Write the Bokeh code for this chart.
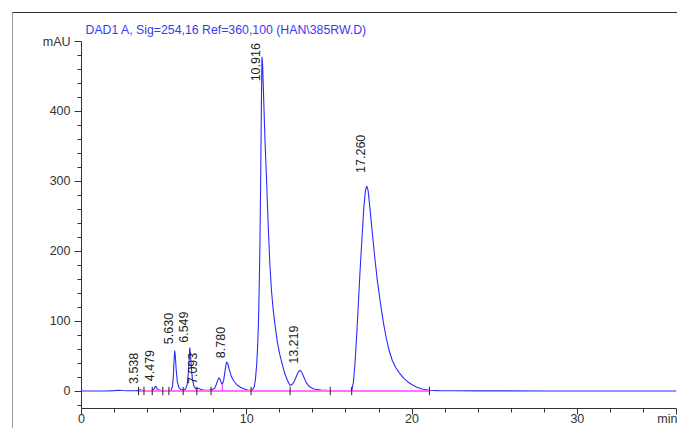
from bokeh.plotting import figure
from bokeh.models import FixedTicker, LabelSet, ColumnDataSource, Range1d, InlineStyleSheet
from bokeh.core.properties import value
from bokeh.embed import file_html
from bokeh.resources import INLINE

# ---- data ----
time_min = [0.0, 1.0, 1.6, 2.0, 2.2, 2.45, 2.8, 3.2, 3.45, 3.54, 3.65, 3.9, 4.25, 4.38, 4.48,
            4.56, 4.66, 4.80, 5.00, 5.30, 5.42, 5.50, 5.56, 5.60, 5.64, 5.68, 5.73, 5.80, 5.90,
            6.00, 6.15, 6.30, 6.40, 6.47, 6.52, 6.55, 6.59, 6.64, 6.71, 6.80, 6.92, 7.05, 7.10,
            7.20, 7.40, 7.70, 7.90, 8.05, 8.15, 8.25, 8.32, 8.40, 8.47, 8.52, 8.60, 8.68, 8.75,
            8.79, 8.85, 8.95, 9.08, 9.23, 9.40, 9.64, 9.90, 10.10, 10.26, 10.35, 10.45, 10.52,
            10.60, 10.66, 10.71, 10.76, 10.80, 10.84, 10.88, 10.92, 10.96, 11.02, 11.10, 11.20,
            11.30, 11.40, 11.50, 11.60, 11.70, 11.85, 12.00, 12.16, 12.30, 12.46, 12.62, 12.78,
            12.92, 13.05, 13.14, 13.22, 13.32, 13.45, 13.60, 13.80, 14.05, 14.50, 15.05, 15.60,
            16.20, 16.35, 16.45, 16.55, 16.65, 16.75, 16.85, 16.97, 17.08, 17.18, 17.26, 17.34,
            17.45, 17.60, 17.75, 17.90, 18.08, 18.25, 18.42, 18.60, 18.80, 19.00, 19.23, 19.50,
            19.75, 20.00, 20.30, 20.60, 21.05, 21.60, 22.50, 24.00, 28.00, 36.00]
signal_mau = [0, 0, 0.2, 0.6, 1.2, 0.7, 0.4, 0.4, 0.6, 2.0, 0.9, 0.6, 0.8, 2.5, 7.0,
              3.5, 1.8, 1.0, 0.8, 0.7, 1.5, 6, 22, 44, 58, 49, 30, 13, 5,
              2, 1.5, 3, 10, 28, 50, 62, 54, 35, 17, 7, 3.5, 3.5, 3.8,
              2.5, 1.5, 1.2, 2, 4, 9, 16, 19, 16, 11, 9.5, 15, 28, 39,
              41.5, 39, 30, 20, 14, 9, 5, 2.5, 1.2, 1, 2, 6, 16,
              38, 65, 100, 157, 215, 300, 400, 478, 466, 420, 360, 300,
              235, 180, 142, 116, 96, 70, 52, 37, 25, 15, 8, 10,
              16, 24, 28, 29.5, 27, 20, 12, 6, 3, 1.5, 0.8, 0.5,
              0.4, 1.5, 12, 40, 80, 124, 170, 219, 262, 287, 293, 287,
              262, 225, 190, 158, 127, 100, 78, 59, 44, 34, 26, 18,
              13, 9, 5.5, 3, 1.2, 0.6, 0.3, 0.2, 0.1, 0]

peak_rt = [3.538, 4.479, 5.630, 6.549, 7.093, 8.780, 10.916, 13.219, 17.260]
peak_text = ["3.538", "4.479", "5.630", "6.549", "7.093", "8.780", "10.916", "13.219", "17.260"]
peak_label_y = [10, 14, 67, 69, 10, 47, 443, 39, 312]

event_times = [3.45, 3.78, 4.28, 4.92, 5.29, 6.15, 6.98, 7.84, 10.26, 12.62, 15.05, 16.35, 21.05]
drop_times = [8.52]
drop_tops = [9.5]
baseline_t = [3.45, 21.05]
baseline_y = [0, 0]

x_major = [0, 10, 20, 30, 36]
x_minor = [2, 4, 6, 8, 12, 14, 16, 18, 22, 24, 26, 28, 32, 34]
y_major = [0, 100, 200, 300, 400, 500]
y_minor = [-20, 20, 40, 60, 80, 120, 140, 160, 180, 220, 240, 260, 280, 320, 340, 360, 380,
           420, 440, 460, 480]

title_text = "DAD1 A, Sig=254,16 Ref=360,100 (HAN\\385RW.D)"

FONT = "Liberation Sans"

p = figure(width=677, height=428, output_backend="svg", toolbar_location=None,
           title=title_text,
           x_range=Range1d(0, 36), y_range=Range1d(-25, 500),
           min_border_left=81, min_border_right=1, min_border_top=41, min_border_bottom=20)
p.outline_line_color = None
p.grid.visible = False
p.background_fill_color = "white"
p.border_fill_color = "white"

p.title.text_font = FONT
p.title.text_font_size = "12.3px"
p.title.text_font_style = "normal"
p.title.text_color = "#3a3af0"
p.title.align = "left"
p.title.offset = 4

# trace
p.line(time_min, signal_mau, line_color="#2a2aff", line_width=1.1)
# integration baseline
p.line(baseline_t, baseline_y, line_color="#ff70ff", line_width=2)
p.segment(x0=drop_times, y0=[0] * len(drop_times), x1=drop_times, y1=drop_tops,
          line_color="#ff40ff", line_width=1.2)
p.segment(x0=event_times, y0=[-6] * len(event_times), x1=event_times, y1=[6] * len(event_times),
          line_color="#222222", line_width=1)

src = ColumnDataSource(dict(x=peak_rt, y=peak_label_y, text=peak_text))
p.add_layout(LabelSet(x="x", y="y", text="text", source=src, angle=1.5708,
                      x_offset=-2, text_align="left", text_baseline="alphabetic",
                      text_font=value(FONT), text_font_size=value("12.5px"),
                      text_color="#222222"))

# axes
for ax in (p.xaxis[0], p.yaxis[0]):
    ax.axis_line_color = "#333333"
    ax.major_tick_line_color = "#333333"
    ax.minor_tick_line_color = "#333333"
    ax.major_tick_in = 0
    ax.minor_tick_in = 0
    ax.major_label_text_font = FONT
    ax.major_label_text_font_size = "12.5px"
    ax.major_label_text_color = "#333333"

p.xaxis.ticker = FixedTicker(ticks=x_major, minor_ticks=x_minor)
p.xaxis.major_tick_out = 6
p.xaxis.minor_tick_out = 4
p.xaxis.major_label_standoff = -3
p.xaxis.major_label_overrides = {36: "min"}

p.yaxis.ticker = FixedTicker(ticks=y_major, minor_ticks=y_minor)
p.yaxis.major_tick_out = 7
p.yaxis.minor_tick_out = 4
p.yaxis.major_label_standoff = 4
p.yaxis.major_label_overrides = {500: "mAU"}

# outer frame lines (top and left) drawn as a CSS overlay on the figure element
p.stylesheets = [InlineStyleSheet(css="""
:host { position: relative; }
:host::after {
  content: "";
  position: absolute;
  left: 12px; top: 12px; right: -20px; bottom: -20px;
  border-top: 1px solid #333333;
  border-left: 1px solid #999999;
  pointer-events: none;
  z-index: 10;
}
""")]

open("out.html", "w").write(file_html(p, INLINE))
